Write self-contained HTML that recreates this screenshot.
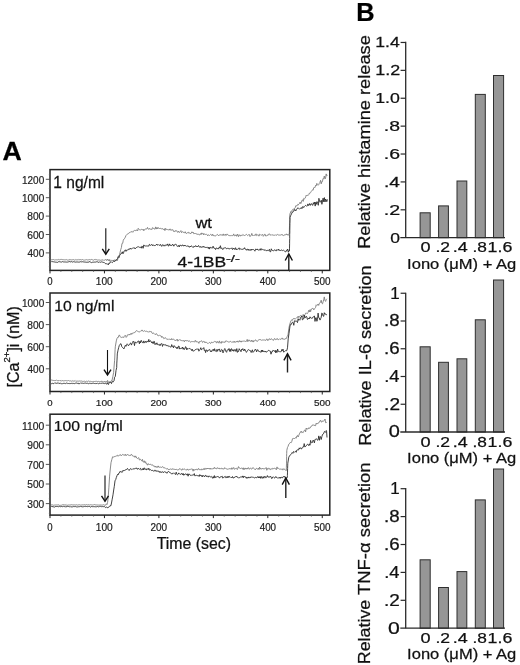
<!DOCTYPE html>
<html lang="en"><head><meta charset="utf-8"><title>Figure</title>
<style>
html,body{margin:0;padding:0;background:#fff;}
body{width:520px;height:665px;overflow:hidden;}
svg{display:block;filter:grayscale(1);font-family:"Liberation Sans",sans-serif;}
</style></head><body>
<svg width="520" height="665" viewBox="0 0 520 665">
<rect width="520" height="665" fill="#fff"/>
<text transform="translate(3.20,160.10) scale(1.024,1)" x="-0.65" y="0" font-size="26.09" font-weight="bold" fill="#000" stroke="#000" stroke-width="0.25">A</text>
<text transform="translate(357.80,20.70) scale(0.967,1)" x="-1.71" y="0" font-size="26.23" font-weight="bold" fill="#000" stroke="#000" stroke-width="0.25">B</text>
<rect x="50.0" y="169.6" width="279.8" height="100.79999999999998" fill="none" stroke="#222" stroke-width="1.5"/>
<line x1="45.80" y1="179.30" x2="50.00" y2="179.30" stroke="#444" stroke-width="0.9"/>
<text transform="translate(22.70,183.60) scale(0.961,1)" x="-0.78" y="0" font-size="10.43" fill="#222" stroke="#222" stroke-width="0.2">1200</text>
<line x1="45.80" y1="197.70" x2="50.00" y2="197.70" stroke="#444" stroke-width="0.9"/>
<text transform="translate(22.70,202.00) scale(0.961,1)" x="-0.78" y="0" font-size="10.43" fill="#222" stroke="#222" stroke-width="0.2">1000</text>
<line x1="45.80" y1="216.10" x2="50.00" y2="216.10" stroke="#444" stroke-width="0.9"/>
<text transform="translate(27.70,220.40) scale(0.977,1)" x="-0.42" y="0" font-size="10.43" fill="#222" stroke="#222" stroke-width="0.2">800</text>
<line x1="45.80" y1="234.50" x2="50.00" y2="234.50" stroke="#444" stroke-width="0.9"/>
<text transform="translate(27.70,238.80) scale(0.983,1)" x="-0.52" y="0" font-size="10.43" fill="#222" stroke="#222" stroke-width="0.2">600</text>
<line x1="45.80" y1="252.90" x2="50.00" y2="252.90" stroke="#444" stroke-width="0.9"/>
<text transform="translate(27.70,257.20) scale(0.965,1)" x="-0.21" y="0" font-size="10.43" fill="#222" stroke="#222" stroke-width="0.2">400</text>
<line x1="48.80" y1="174.70" x2="50.00" y2="174.70" stroke="#666" stroke-width="0.6"/>
<line x1="48.80" y1="183.90" x2="50.00" y2="183.90" stroke="#666" stroke-width="0.6"/>
<line x1="48.80" y1="188.50" x2="50.00" y2="188.50" stroke="#666" stroke-width="0.6"/>
<line x1="48.80" y1="193.10" x2="50.00" y2="193.10" stroke="#666" stroke-width="0.6"/>
<line x1="48.80" y1="202.30" x2="50.00" y2="202.30" stroke="#666" stroke-width="0.6"/>
<line x1="48.80" y1="206.90" x2="50.00" y2="206.90" stroke="#666" stroke-width="0.6"/>
<line x1="48.80" y1="211.50" x2="50.00" y2="211.50" stroke="#666" stroke-width="0.6"/>
<line x1="48.80" y1="220.70" x2="50.00" y2="220.70" stroke="#666" stroke-width="0.6"/>
<line x1="48.80" y1="225.30" x2="50.00" y2="225.30" stroke="#666" stroke-width="0.6"/>
<line x1="48.80" y1="229.90" x2="50.00" y2="229.90" stroke="#666" stroke-width="0.6"/>
<line x1="48.80" y1="239.10" x2="50.00" y2="239.10" stroke="#666" stroke-width="0.6"/>
<line x1="48.80" y1="243.70" x2="50.00" y2="243.70" stroke="#666" stroke-width="0.6"/>
<line x1="48.80" y1="248.30" x2="50.00" y2="248.30" stroke="#666" stroke-width="0.6"/>
<line x1="48.80" y1="257.50" x2="50.00" y2="257.50" stroke="#666" stroke-width="0.6"/>
<line x1="48.80" y1="262.10" x2="50.00" y2="262.10" stroke="#666" stroke-width="0.6"/>
<line x1="48.80" y1="266.70" x2="50.00" y2="266.70" stroke="#666" stroke-width="0.6"/>
<line x1="50.00" y1="270.40" x2="50.00" y2="273.40" stroke="#222" stroke-width="1.0"/>
<text transform="translate(47.70,284.90) scale(0.932,1)" x="-0.41" y="0" font-size="10.29" fill="#222" stroke="#222" stroke-width="0.2">0</text>
<line x1="104.45" y1="270.40" x2="104.45" y2="273.40" stroke="#222" stroke-width="1.0"/>
<text transform="translate(96.55,284.90) scale(0.988,1)" x="-0.77" y="0" font-size="10.29" fill="#222" stroke="#222" stroke-width="0.2">100</text>
<line x1="158.90" y1="270.40" x2="158.90" y2="273.40" stroke="#222" stroke-width="1.0"/>
<text transform="translate(151.00,284.90) scale(0.972,1)" x="-0.51" y="0" font-size="10.29" fill="#222" stroke="#222" stroke-width="0.2">200</text>
<line x1="213.35" y1="270.40" x2="213.35" y2="273.40" stroke="#222" stroke-width="1.0"/>
<text transform="translate(205.45,284.90) scale(0.966,1)" x="-0.41" y="0" font-size="10.29" fill="#222" stroke="#222" stroke-width="0.2">300</text>
<line x1="267.80" y1="270.40" x2="267.80" y2="273.40" stroke="#222" stroke-width="1.0"/>
<text transform="translate(259.90,284.90) scale(0.954,1)" x="-0.21" y="0" font-size="10.29" fill="#222" stroke="#222" stroke-width="0.2">400</text>
<line x1="322.25" y1="270.40" x2="322.25" y2="273.40" stroke="#222" stroke-width="1.0"/>
<text transform="translate(314.35,284.90) scale(0.966,1)" x="-0.41" y="0" font-size="10.29" fill="#222" stroke="#222" stroke-width="0.2">500</text>
<line x1="60.89" y1="270.40" x2="60.89" y2="272.00" stroke="#555" stroke-width="0.7"/>
<line x1="71.78" y1="270.40" x2="71.78" y2="272.00" stroke="#555" stroke-width="0.7"/>
<line x1="82.67" y1="270.40" x2="82.67" y2="272.00" stroke="#555" stroke-width="0.7"/>
<line x1="93.56" y1="270.40" x2="93.56" y2="272.00" stroke="#555" stroke-width="0.7"/>
<line x1="115.34" y1="270.40" x2="115.34" y2="272.00" stroke="#555" stroke-width="0.7"/>
<line x1="126.23" y1="270.40" x2="126.23" y2="272.00" stroke="#555" stroke-width="0.7"/>
<line x1="137.12" y1="270.40" x2="137.12" y2="272.00" stroke="#555" stroke-width="0.7"/>
<line x1="148.01" y1="270.40" x2="148.01" y2="272.00" stroke="#555" stroke-width="0.7"/>
<line x1="169.79" y1="270.40" x2="169.79" y2="272.00" stroke="#555" stroke-width="0.7"/>
<line x1="180.68" y1="270.40" x2="180.68" y2="272.00" stroke="#555" stroke-width="0.7"/>
<line x1="191.57" y1="270.40" x2="191.57" y2="272.00" stroke="#555" stroke-width="0.7"/>
<line x1="202.46" y1="270.40" x2="202.46" y2="272.00" stroke="#555" stroke-width="0.7"/>
<line x1="224.24" y1="270.40" x2="224.24" y2="272.00" stroke="#555" stroke-width="0.7"/>
<line x1="235.13" y1="270.40" x2="235.13" y2="272.00" stroke="#555" stroke-width="0.7"/>
<line x1="246.02" y1="270.40" x2="246.02" y2="272.00" stroke="#555" stroke-width="0.7"/>
<line x1="256.91" y1="270.40" x2="256.91" y2="272.00" stroke="#555" stroke-width="0.7"/>
<line x1="278.69" y1="270.40" x2="278.69" y2="272.00" stroke="#555" stroke-width="0.7"/>
<line x1="289.58" y1="270.40" x2="289.58" y2="272.00" stroke="#555" stroke-width="0.7"/>
<line x1="300.47" y1="270.40" x2="300.47" y2="272.00" stroke="#555" stroke-width="0.7"/>
<line x1="311.36" y1="270.40" x2="311.36" y2="272.00" stroke="#555" stroke-width="0.7"/>
<text transform="translate(54.50,187.90) scale(0.983,1)" x="-1.18" y="0" font-size="15.80" fill="#111" stroke="#111" stroke-width="0.25">1 ng/ml</text>
<polyline points="51.0,259.6 51.6,259.8 52.2,259.7 52.8,259.6 53.4,259.5 54.0,259.7 54.6,260.0 55.2,259.8 55.8,259.9 56.4,259.8 57.0,259.8 57.7,259.8 58.3,259.4 58.9,259.9 59.5,259.8 60.1,259.8 60.7,259.4 61.3,259.4 61.9,259.5 62.5,259.6 63.1,259.8 63.7,259.7 64.3,259.9 64.9,259.6 65.5,259.8 66.1,259.8 66.7,259.6 67.3,260.1 67.9,259.9 68.5,260.0 69.1,259.6 69.8,259.6 70.4,259.7 71.0,259.8 71.6,259.9 72.2,259.8 72.8,259.7 73.4,259.6 74.0,259.7 74.6,260.1 75.2,259.6 75.8,259.9 76.4,259.9 77.0,259.5 77.6,259.8 78.2,260.1 78.8,259.4 79.4,259.7 80.0,259.8 80.6,259.6 81.2,259.9 81.9,259.8 82.5,259.5 83.1,260.0 83.7,260.0 84.3,260.0 84.9,260.2 85.5,259.9 86.1,259.9 86.7,259.6 87.3,260.0 87.9,259.7 88.5,259.8 89.1,259.6 89.7,259.6 90.3,259.7 90.9,260.1 91.5,259.4 92.1,259.5 92.7,259.9 93.3,260.2 94.0,260.0 94.6,259.5 95.2,259.3 95.8,260.0 96.4,259.7 97.0,259.6 97.6,260.1 98.2,260.1 98.8,259.9 99.4,260.0 100.0,260.0 100.6,260.3 101.2,260.1 101.8,260.1 102.4,260.1 103.0,259.6 103.6,260.3 104.2,260.2 104.9,260.1 105.5,259.6 106.1,259.7 106.7,260.6 107.3,259.0 107.9,260.0 108.5,260.7 109.1,259.3 109.7,261.1 110.3,260.5 110.9,260.1 111.5,260.4 112.1,260.6 112.8,260.3 113.4,260.9 114.0,259.8 114.6,260.0 115.2,260.9 115.8,260.3 116.4,259.8 117.0,260.9 117.6,259.9 118.2,257.4 118.9,255.5 119.5,254.9 120.1,252.2 120.8,249.3 121.4,247.6 122.0,243.4 122.7,243.3 123.3,240.2 124.0,239.0 124.7,238.4 125.3,237.2 126.0,235.5 126.6,234.8 127.2,234.2 127.9,233.8 128.5,233.6 129.1,232.7 129.8,232.5 130.4,232.3 131.0,231.5 131.6,231.8 132.2,231.5 132.8,232.3 133.4,231.1 134.0,230.5 134.6,230.4 135.2,230.4 135.8,230.9 136.4,229.9 137.0,230.2 137.6,231.0 138.2,228.3 138.9,229.2 139.5,229.9 140.1,230.0 140.7,229.8 141.3,229.3 142.0,229.9 142.6,229.7 143.2,229.1 143.8,230.8 144.4,229.5 145.0,228.9 145.7,229.1 146.3,229.0 146.9,229.0 147.5,227.4 148.1,228.7 148.8,229.5 149.4,228.2 150.0,228.8 150.6,229.3 151.2,229.2 151.9,229.6 152.5,227.6 153.1,228.4 153.8,228.4 154.4,228.9 155.0,229.2 155.6,226.9 156.2,229.1 156.9,227.5 157.5,228.8 158.1,227.4 158.8,228.4 159.4,229.0 160.0,228.1 160.6,228.4 161.2,228.9 161.8,228.6 162.5,228.5 163.1,229.6 163.7,229.4 164.3,228.7 164.9,230.6 165.5,228.4 166.2,229.7 166.8,229.1 167.4,229.5 168.0,229.9 168.6,229.8 169.2,230.1 169.8,229.0 170.5,229.1 171.1,230.5 171.7,229.7 172.3,229.8 172.9,229.7 173.5,231.4 174.2,231.3 174.8,231.8 175.4,230.5 176.0,231.2 176.6,230.6 177.2,231.8 177.8,232.4 178.5,231.0 179.1,232.5 179.7,232.2 180.3,231.6 180.9,230.6 181.5,232.7 182.1,231.9 182.7,231.7 183.4,232.3 184.0,232.4 184.6,233.1 185.2,231.7 185.8,233.1 186.4,233.4 187.0,233.4 187.6,232.5 188.3,232.2 188.9,233.4 189.5,232.9 190.1,233.0 190.7,233.8 191.3,232.9 191.9,231.8 192.5,233.0 193.2,232.2 193.8,233.8 194.4,233.6 195.0,233.1 195.6,233.6 196.2,234.1 196.8,233.7 197.4,234.5 198.0,233.8 198.6,234.5 199.2,234.8 199.8,234.9 200.5,233.6 201.1,234.6 201.7,233.0 202.3,233.5 202.9,233.1 203.5,234.9 204.1,233.6 204.7,234.4 205.3,234.4 205.9,234.5 206.5,234.2 207.1,234.8 207.7,235.8 208.3,234.8 208.9,235.1 209.5,235.5 210.2,234.8 210.8,234.2 211.4,234.7 212.0,235.8 212.6,234.2 213.2,234.9 213.8,235.9 214.4,235.8 215.0,235.4 215.6,235.9 216.2,235.5 216.8,234.7 217.4,234.4 218.0,235.0 218.6,235.9 219.2,235.0 219.8,234.8 220.4,234.9 221.0,234.4 221.6,235.3 222.2,234.6 222.8,235.5 223.4,233.9 224.1,235.5 224.7,234.9 225.3,234.1 225.9,235.7 226.5,235.1 227.1,233.9 227.7,234.7 228.3,235.4 228.9,235.0 229.5,235.7 230.1,235.7 230.7,235.6 231.3,235.4 231.9,236.0 232.5,235.6 233.1,235.5 233.7,233.9 234.3,235.7 234.9,236.0 235.5,235.0 236.1,234.9 236.7,236.3 237.3,234.1 237.9,235.4 238.5,236.6 239.1,234.6 239.7,235.5 240.3,236.2 240.9,235.0 241.6,235.4 242.2,235.6 242.8,234.5 243.4,235.0 244.0,235.2 244.6,235.6 245.2,235.0 245.8,234.9 246.4,234.4 247.0,234.8 247.6,235.6 248.2,235.1 248.8,234.5 249.4,234.5 250.0,236.6 250.6,235.7 251.2,235.4 251.8,233.4 252.4,235.4 253.0,235.3 253.6,236.0 254.2,235.3 254.8,235.0 255.4,235.3 256.0,233.8 256.7,235.6 257.3,235.2 257.9,234.6 258.5,235.8 259.1,236.1 259.7,234.2 260.3,234.6 260.9,235.2 261.5,235.1 262.1,234.8 262.7,234.4 263.3,236.3 263.9,235.6 264.5,234.3 265.1,234.2 265.7,236.0 266.3,235.6 266.9,236.1 267.5,235.5 268.1,234.5 268.7,235.2 269.3,233.7 270.0,234.6 270.6,235.0 271.2,235.3 271.8,234.6 272.4,234.9 273.0,235.3 273.6,235.2 274.2,235.4 274.8,235.1 275.4,234.8 276.0,235.5 276.6,235.0 277.2,234.5 277.8,234.6 278.4,235.0 279.0,234.9 279.6,235.1 280.2,235.0 280.8,235.1 281.4,234.9 282.0,234.2 282.6,235.3 283.3,235.6 283.9,235.3 284.5,234.9 285.1,235.3 285.7,234.4 286.3,233.9 286.9,235.0 287.5,234.4 288.1,235.4 288.7,234.3 289.3,233.4 289.4,231.4 289.4,229.9 289.5,225.8 289.6,222.2 289.7,219.5 289.7,217.3 289.8,214.3 291.0,211.1 291.6,211.3 292.2,210.3 292.8,209.3 293.4,209.2 294.0,209.3 294.6,208.3 295.2,207.8 295.8,205.7 296.4,205.8 297.1,205.8 297.7,204.4 298.3,204.9 298.9,203.9 299.5,203.5 300.1,202.1 300.8,203.7 301.4,202.0 302.0,200.2 302.6,199.9 303.2,201.4 303.8,198.3 304.5,198.8 305.1,198.3 305.7,196.8 306.3,195.0 306.9,195.7 307.5,195.3 308.2,195.4 308.8,194.5 309.4,193.1 310.0,193.4 310.6,192.5 311.2,191.5 311.9,190.7 312.5,189.8 313.1,190.2 313.7,187.7 314.4,187.5 315.0,187.6 315.6,185.3 316.2,185.9 316.8,183.4 317.5,184.3 318.1,185.3 318.7,184.7 319.3,183.3 319.9,182.4 320.6,180.3 321.2,183.9 321.8,181.6 322.4,181.7 323.0,178.5 323.7,178.8 324.3,176.0 324.9,178.9 325.5,178.5 326.2,173.9 326.8,175.9 327.4,175.4" fill="none" stroke="#7d7d7d" stroke-width="0.9" stroke-linejoin="round"/>
<polyline points="51.0,262.2 51.6,261.6 52.2,261.6 52.8,261.7 53.4,261.8 54.0,261.7 54.6,262.0 55.2,262.1 55.8,262.2 56.4,262.2 57.0,262.4 57.7,262.3 58.3,261.7 58.9,261.9 59.5,261.7 60.1,261.7 60.7,262.0 61.3,262.0 61.9,262.1 62.5,261.6 63.1,261.7 63.7,262.0 64.3,262.0 64.9,261.9 65.5,262.0 66.1,261.8 66.7,262.2 67.3,262.1 67.9,262.0 68.5,261.8 69.1,262.0 69.7,261.3 70.3,261.8 71.0,262.0 71.6,261.6 72.2,262.0 72.8,262.0 73.4,261.7 74.0,261.9 74.6,261.9 75.2,262.1 75.8,262.1 76.4,262.0 77.0,261.8 77.6,262.0 78.2,262.0 78.8,262.2 79.4,262.1 80.0,261.8 80.6,261.7 81.2,261.9 81.8,261.8 82.4,261.7 83.0,262.0 83.7,261.9 84.3,262.0 84.9,262.1 85.5,261.9 86.1,262.6 86.7,261.9 87.3,262.3 87.9,262.0 88.5,262.3 89.1,261.4 89.7,261.8 90.3,262.1 90.9,262.1 91.5,262.6 92.1,262.1 92.7,262.3 93.3,262.2 93.9,262.2 94.5,262.1 95.1,262.0 95.7,262.1 96.3,261.7 97.0,262.3 97.6,261.8 98.2,262.1 98.8,262.5 99.4,261.9 100.0,262.0 100.6,262.3 101.2,262.0 101.8,261.8 102.4,262.1 103.0,262.1 103.7,262.5 104.3,262.5 105.0,263.4 105.7,263.7 106.4,263.7 107.0,264.1 107.7,264.0 108.4,264.8 109.0,262.9 109.7,263.4 110.3,262.1 111.0,261.5 111.7,262.3 112.4,262.6 113.2,261.5 113.9,260.9 114.6,261.7 115.3,260.4 116.0,259.8 116.8,259.8 117.5,258.7 118.2,256.7 119.0,257.6 119.7,255.2 120.4,254.7 121.0,253.4 121.6,253.4 122.3,251.8 122.9,253.8 123.5,253.1 124.1,251.0 124.8,250.4 125.4,249.9 126.0,251.4 126.6,250.1 127.2,250.1 127.8,249.8 128.4,249.7 129.0,248.8 129.6,249.4 130.2,248.1 130.8,248.9 131.4,248.9 132.0,248.8 132.6,248.2 133.2,247.6 133.9,248.3 134.5,247.7 135.1,249.0 135.7,248.3 136.3,247.6 137.0,247.2 137.6,246.9 138.2,246.7 138.8,246.9 139.4,247.3 140.0,247.3 140.7,247.2 141.3,248.2 141.9,246.1 142.5,246.5 143.1,248.3 143.8,244.9 144.4,245.8 145.0,246.1 145.6,246.0 146.2,246.2 146.9,245.6 147.5,246.0 148.1,245.7 148.8,246.2 149.4,244.3 150.0,244.9 150.6,245.4 151.2,244.7 151.9,244.6 152.5,245.7 153.1,244.7 153.8,245.6 154.4,245.6 155.0,245.2 155.6,245.4 156.2,244.9 156.8,244.0 157.4,245.0 158.0,245.3 158.6,244.7 159.2,245.0 159.8,245.6 160.5,244.4 161.1,245.5 161.7,246.4 162.3,244.7 162.9,245.2 163.5,245.0 164.1,246.2 164.7,245.3 165.3,245.7 165.9,244.6 166.5,245.1 167.1,245.1 167.7,243.9 168.3,246.1 168.9,245.8 169.5,243.9 170.2,245.7 170.8,245.1 171.4,245.5 172.0,245.4 172.6,244.1 173.2,245.0 173.8,246.2 174.4,244.8 175.0,244.5 175.6,244.3 176.2,244.4 176.8,245.6 177.4,246.5 178.0,245.7 178.6,245.6 179.2,247.0 179.8,245.2 180.5,245.1 181.1,246.0 181.7,246.0 182.3,245.0 182.9,244.9 183.5,246.0 184.1,246.0 184.7,245.0 185.3,245.8 185.9,245.6 186.5,246.3 187.1,246.0 187.7,246.0 188.3,245.9 188.9,246.9 189.5,247.2 190.2,246.0 190.8,246.9 191.4,245.8 192.0,246.4 192.6,246.9 193.2,247.5 193.8,246.3 194.4,246.5 195.0,246.7 195.6,245.6 196.2,246.7 196.8,246.2 197.4,247.0 198.0,246.0 198.6,245.5 199.2,246.9 199.8,247.1 200.5,246.5 201.1,247.6 201.7,246.8 202.3,246.6 202.9,247.4 203.5,246.0 204.1,246.7 204.7,247.2 205.3,247.8 205.9,247.1 206.5,247.5 207.1,246.9 207.7,247.6 208.3,248.5 208.9,247.0 209.5,249.1 210.2,247.1 210.8,247.6 211.4,247.7 212.0,248.3 212.6,246.8 213.2,246.2 213.8,248.1 214.4,248.3 215.0,248.2 215.6,249.6 216.2,248.0 216.8,248.1 217.4,248.6 218.0,248.2 218.6,249.1 219.2,247.1 219.8,247.8 220.4,245.7 221.0,248.6 221.6,247.8 222.2,248.8 222.8,249.6 223.4,248.2 224.1,248.0 224.7,247.9 225.3,247.7 225.9,247.9 226.5,248.8 227.1,248.4 227.7,248.4 228.3,248.3 228.9,249.1 229.5,248.8 230.1,248.4 230.7,249.0 231.3,248.4 231.9,247.8 232.5,249.6 233.1,248.9 233.7,248.0 234.3,249.4 234.9,248.9 235.5,247.7 236.1,249.9 236.7,249.0 237.3,249.4 237.9,249.0 238.5,248.8 239.1,247.8 239.7,249.6 240.3,249.0 240.9,248.8 241.6,249.3 242.2,249.1 242.8,249.5 243.4,248.8 244.0,249.1 244.6,247.7 245.2,248.9 245.8,249.7 246.4,250.2 247.0,249.0 247.6,249.2 248.2,250.4 248.8,249.1 249.4,249.9 250.0,250.6 250.6,249.5 251.2,250.3 251.8,249.0 252.4,249.6 253.0,249.5 253.6,249.6 254.3,250.3 254.9,251.2 255.5,249.1 256.1,249.2 256.7,250.0 257.3,248.9 257.9,250.0 258.5,250.1 259.1,249.6 259.7,250.1 260.3,248.7 260.9,250.3 261.5,248.8 262.2,249.4 262.8,249.5 263.4,249.6 264.0,250.5 264.6,250.0 265.2,249.7 265.8,250.4 266.4,251.1 267.0,250.1 267.6,250.3 268.2,250.9 268.8,250.3 269.4,249.3 270.1,251.9 270.7,251.7 271.3,248.8 271.9,250.2 272.5,250.5 273.1,250.9 273.7,250.8 274.3,250.1 274.9,249.6 275.5,250.4 276.1,251.1 276.7,249.7 277.3,249.7 278.0,250.4 278.6,249.1 279.2,250.3 279.8,250.2 280.4,250.9 281.0,250.1 281.6,250.0 282.2,250.4 282.8,250.6 283.4,250.2 284.0,250.7 284.6,251.2 285.2,251.6 285.9,251.9 286.5,250.2 287.1,250.5 287.7,249.1 288.3,252.2 288.9,250.4 289.5,250.9 289.5,248.2 289.6,243.8 289.6,242.0 289.7,238.6 289.7,234.2 289.8,232.6 289.8,230.2 289.9,225.0 289.9,223.7 290.0,220.2 290.0,217.3 290.8,215.3 291.5,213.9 292.1,212.2 292.7,212.4 293.4,210.9 294.0,211.1 294.6,209.4 295.2,209.7 295.8,210.9 296.4,209.7 297.0,209.0 297.6,207.9 298.2,208.0 298.8,208.6 299.4,209.1 300.0,208.4 300.6,208.3 301.3,207.6 301.9,208.7 302.5,206.8 303.1,206.4 303.7,207.6 304.3,206.6 304.9,206.0 305.5,205.4 306.1,205.6 306.7,206.3 307.3,205.8 307.9,203.9 308.5,205.5 309.1,205.1 309.7,203.5 310.3,205.4 311.0,204.0 311.6,203.7 312.2,204.9 312.8,205.4 313.4,202.7 314.0,204.0 314.6,202.1 315.2,206.1 315.8,202.2 316.4,204.3 317.0,201.6 317.7,203.4 318.3,205.3 318.9,198.3 319.5,201.1 320.1,202.3 320.7,201.3 321.3,200.2 321.9,204.3 322.5,201.0 323.1,198.1 323.7,201.8 324.4,197.6 325.0,202.0 325.6,199.0 326.2,200.0 326.8,201.7 327.4,199.4" fill="none" stroke="#2c2c2c" stroke-width="0.9" stroke-linejoin="round"/>
<path d="M105.8,228.2 V254.2 " fill="none" stroke="#111" stroke-width="1.1"/><path d="M102.3,248.79999999999998 L105.8,254.2 L109.3,248.79999999999998" fill="none" stroke="#111" stroke-width="1.4"/>
<path d="M288.8,270.4 V253.9 " fill="none" stroke="#222" stroke-width="1.4"/><path d="M285.2,260.5 L288.8,253.9 L292.40000000000003,260.5" fill="none" stroke="#111" stroke-width="1.4"/>
<rect x="50.0" y="293" width="279.8" height="98.5" fill="none" stroke="#222" stroke-width="1.5"/>
<line x1="45.80" y1="302.50" x2="50.00" y2="302.50" stroke="#444" stroke-width="0.9"/>
<text transform="translate(22.70,306.80) scale(0.961,1)" x="-0.78" y="0" font-size="10.43" fill="#222" stroke="#222" stroke-width="0.2">1000</text>
<line x1="45.80" y1="324.60" x2="50.00" y2="324.60" stroke="#444" stroke-width="0.9"/>
<text transform="translate(27.70,328.90) scale(0.977,1)" x="-0.42" y="0" font-size="10.43" fill="#222" stroke="#222" stroke-width="0.2">800</text>
<line x1="45.80" y1="346.70" x2="50.00" y2="346.70" stroke="#444" stroke-width="0.9"/>
<text transform="translate(27.70,351.00) scale(0.983,1)" x="-0.52" y="0" font-size="10.43" fill="#222" stroke="#222" stroke-width="0.2">600</text>
<line x1="45.80" y1="368.80" x2="50.00" y2="368.80" stroke="#444" stroke-width="0.9"/>
<text transform="translate(27.70,373.10) scale(0.965,1)" x="-0.21" y="0" font-size="10.43" fill="#222" stroke="#222" stroke-width="0.2">400</text>
<line x1="48.80" y1="296.97" x2="50.00" y2="296.97" stroke="#666" stroke-width="0.6"/>
<line x1="48.80" y1="308.02" x2="50.00" y2="308.02" stroke="#666" stroke-width="0.6"/>
<line x1="48.80" y1="313.55" x2="50.00" y2="313.55" stroke="#666" stroke-width="0.6"/>
<line x1="48.80" y1="319.07" x2="50.00" y2="319.07" stroke="#666" stroke-width="0.6"/>
<line x1="48.80" y1="330.12" x2="50.00" y2="330.12" stroke="#666" stroke-width="0.6"/>
<line x1="48.80" y1="335.65" x2="50.00" y2="335.65" stroke="#666" stroke-width="0.6"/>
<line x1="48.80" y1="341.17" x2="50.00" y2="341.17" stroke="#666" stroke-width="0.6"/>
<line x1="48.80" y1="352.22" x2="50.00" y2="352.22" stroke="#666" stroke-width="0.6"/>
<line x1="48.80" y1="357.75" x2="50.00" y2="357.75" stroke="#666" stroke-width="0.6"/>
<line x1="48.80" y1="363.27" x2="50.00" y2="363.27" stroke="#666" stroke-width="0.6"/>
<line x1="48.80" y1="374.32" x2="50.00" y2="374.32" stroke="#666" stroke-width="0.6"/>
<line x1="48.80" y1="379.85" x2="50.00" y2="379.85" stroke="#666" stroke-width="0.6"/>
<line x1="48.80" y1="385.37" x2="50.00" y2="385.37" stroke="#666" stroke-width="0.6"/>
<line x1="50.00" y1="391.50" x2="50.00" y2="394.50" stroke="#222" stroke-width="1.0"/>
<text transform="translate(47.70,406.30) scale(0.972,1)" x="-0.39" y="0" font-size="9.86" fill="#222" stroke="#222" stroke-width="0.2">0</text>
<line x1="104.45" y1="391.50" x2="104.45" y2="394.50" stroke="#222" stroke-width="1.0"/>
<text transform="translate(96.55,406.30) scale(1.031,1)" x="-0.74" y="0" font-size="9.86" fill="#222" stroke="#222" stroke-width="0.2">100</text>
<line x1="158.90" y1="391.50" x2="158.90" y2="394.50" stroke="#222" stroke-width="1.0"/>
<text transform="translate(151.00,406.30) scale(1.014,1)" x="-0.49" y="0" font-size="9.86" fill="#222" stroke="#222" stroke-width="0.2">200</text>
<line x1="213.35" y1="391.50" x2="213.35" y2="394.50" stroke="#222" stroke-width="1.0"/>
<text transform="translate(205.45,406.30) scale(1.008,1)" x="-0.39" y="0" font-size="9.86" fill="#222" stroke="#222" stroke-width="0.2">300</text>
<line x1="267.80" y1="391.50" x2="267.80" y2="394.50" stroke="#222" stroke-width="1.0"/>
<text transform="translate(259.90,406.30) scale(0.996,1)" x="-0.20" y="0" font-size="9.86" fill="#222" stroke="#222" stroke-width="0.2">400</text>
<line x1="322.25" y1="391.50" x2="322.25" y2="394.50" stroke="#222" stroke-width="1.0"/>
<text transform="translate(314.35,406.30) scale(1.008,1)" x="-0.39" y="0" font-size="9.86" fill="#222" stroke="#222" stroke-width="0.2">500</text>
<line x1="60.89" y1="391.50" x2="60.89" y2="393.10" stroke="#555" stroke-width="0.7"/>
<line x1="71.78" y1="391.50" x2="71.78" y2="393.10" stroke="#555" stroke-width="0.7"/>
<line x1="82.67" y1="391.50" x2="82.67" y2="393.10" stroke="#555" stroke-width="0.7"/>
<line x1="93.56" y1="391.50" x2="93.56" y2="393.10" stroke="#555" stroke-width="0.7"/>
<line x1="115.34" y1="391.50" x2="115.34" y2="393.10" stroke="#555" stroke-width="0.7"/>
<line x1="126.23" y1="391.50" x2="126.23" y2="393.10" stroke="#555" stroke-width="0.7"/>
<line x1="137.12" y1="391.50" x2="137.12" y2="393.10" stroke="#555" stroke-width="0.7"/>
<line x1="148.01" y1="391.50" x2="148.01" y2="393.10" stroke="#555" stroke-width="0.7"/>
<line x1="169.79" y1="391.50" x2="169.79" y2="393.10" stroke="#555" stroke-width="0.7"/>
<line x1="180.68" y1="391.50" x2="180.68" y2="393.10" stroke="#555" stroke-width="0.7"/>
<line x1="191.57" y1="391.50" x2="191.57" y2="393.10" stroke="#555" stroke-width="0.7"/>
<line x1="202.46" y1="391.50" x2="202.46" y2="393.10" stroke="#555" stroke-width="0.7"/>
<line x1="224.24" y1="391.50" x2="224.24" y2="393.10" stroke="#555" stroke-width="0.7"/>
<line x1="235.13" y1="391.50" x2="235.13" y2="393.10" stroke="#555" stroke-width="0.7"/>
<line x1="246.02" y1="391.50" x2="246.02" y2="393.10" stroke="#555" stroke-width="0.7"/>
<line x1="256.91" y1="391.50" x2="256.91" y2="393.10" stroke="#555" stroke-width="0.7"/>
<line x1="278.69" y1="391.50" x2="278.69" y2="393.10" stroke="#555" stroke-width="0.7"/>
<line x1="289.58" y1="391.50" x2="289.58" y2="393.10" stroke="#555" stroke-width="0.7"/>
<line x1="300.47" y1="391.50" x2="300.47" y2="393.10" stroke="#555" stroke-width="0.7"/>
<line x1="311.36" y1="391.50" x2="311.36" y2="393.10" stroke="#555" stroke-width="0.7"/>
<text transform="translate(55.40,310.80) scale(1.052,1)" x="-1.12" y="0" font-size="14.93" fill="#111" stroke="#111" stroke-width="0.25">10 ng/ml</text>
<polyline points="51.0,380.3 51.6,380.0 52.2,380.0 52.8,380.6 53.4,380.5 54.0,380.2 54.6,380.6 55.2,380.5 55.8,380.6 56.4,380.0 57.0,380.4 57.6,380.7 58.2,380.7 58.9,380.7 59.5,380.0 60.1,380.6 60.7,380.7 61.3,381.2 61.9,380.4 62.5,380.6 63.1,380.7 63.7,380.9 64.3,380.6 64.9,381.0 65.5,380.6 66.1,380.8 66.7,380.7 67.3,380.8 67.9,380.7 68.5,380.5 69.1,381.1 69.7,380.9 70.3,380.8 70.9,381.0 71.5,381.2 72.1,380.7 72.8,381.0 73.4,381.1 74.0,381.1 74.6,381.0 75.2,380.6 75.8,381.3 76.4,381.2 77.0,381.1 77.6,381.1 78.2,381.2 78.8,381.1 79.4,381.0 80.0,381.0 80.6,381.1 81.2,381.1 81.8,381.0 82.4,381.4 83.0,381.0 83.6,381.4 84.2,381.1 84.8,381.4 85.4,381.6 86.0,381.4 86.6,381.2 87.2,381.4 87.8,381.4 88.4,381.0 89.0,381.2 89.6,381.4 90.2,381.3 90.8,381.4 91.4,381.6 92.0,381.6 92.6,381.7 93.2,381.6 93.8,381.4 94.4,381.5 95.0,381.4 95.6,381.4 96.2,381.5 96.8,381.2 97.4,381.5 98.0,381.6 98.6,381.4 99.2,381.6 99.8,381.7 100.4,381.6 101.0,382.1 101.6,381.1 102.2,381.6 102.8,381.3 103.4,381.9 104.0,382.3 104.6,381.1 105.2,381.7 105.8,381.8 106.4,381.5 107.0,382.1 107.6,380.4 108.2,382.3 108.8,382.0 109.4,381.8 110.0,381.4 110.6,381.8 111.3,380.7 111.9,380.7 112.8,376.9 113.6,372.6 114.6,360.3 114.8,357.0 114.9,354.0 115.1,349.6 115.3,346.8 116.3,340.9 116.9,338.7 117.5,337.5 118.1,337.7 118.8,335.8 119.4,334.9 120.0,336.3 120.6,337.2 121.2,337.3 121.9,337.6 122.5,337.2 123.1,336.9 123.7,337.6 124.3,336.2 124.9,335.4 125.6,335.6 126.2,337.4 126.8,336.7 127.4,334.9 128.0,334.6 128.6,334.9 129.2,334.1 129.8,335.1 130.5,334.0 131.1,333.2 131.7,334.4 132.3,333.0 132.9,333.3 133.5,332.9 134.2,332.5 134.8,332.7 135.4,331.8 136.0,330.9 136.6,330.6 137.2,331.1 137.8,331.3 138.4,331.7 139.0,331.6 139.6,331.9 140.2,331.5 140.8,330.9 141.4,330.9 142.0,329.9 142.6,331.0 143.2,331.3 143.8,331.3 144.4,330.8 145.0,330.7 145.6,331.5 146.3,331.1 146.9,331.6 147.5,331.7 148.2,331.6 148.8,332.3 149.5,331.3 150.1,331.6 150.7,331.5 151.4,331.6 152.0,333.1 152.6,333.5 153.2,332.8 153.8,333.4 154.5,334.1 155.1,334.1 155.7,334.7 156.3,333.5 156.9,334.2 157.5,335.1 158.2,336.0 158.8,335.5 159.4,335.2 160.0,335.8 160.6,335.8 161.2,336.0 161.9,337.6 162.5,336.6 163.1,337.2 163.8,338.7 164.4,338.3 165.0,338.1 165.6,337.7 166.2,338.6 166.9,339.5 167.5,339.2 168.1,339.6 168.7,339.0 169.3,339.3 169.9,339.0 170.5,339.4 171.1,340.0 171.7,338.5 172.3,339.4 172.9,339.6 173.5,339.2 174.1,339.4 174.7,340.2 175.3,341.0 175.9,340.2 176.6,340.1 177.2,339.1 177.8,341.2 178.4,340.2 179.0,340.2 179.6,339.6 180.2,340.4 180.8,339.8 181.4,340.6 182.0,340.9 182.6,340.7 183.2,340.9 183.8,340.3 184.4,341.8 185.0,340.6 185.6,340.0 186.2,341.0 186.8,340.7 187.4,340.6 188.0,341.0 188.6,341.4 189.2,340.6 189.8,341.3 190.5,342.3 191.1,341.9 191.7,341.4 192.3,341.6 192.9,341.5 193.5,341.6 194.1,342.1 194.7,341.7 195.3,340.3 195.9,341.8 196.5,341.3 197.1,342.3 197.7,341.6 198.3,342.1 198.9,343.4 199.5,341.5 200.2,341.5 200.8,341.3 201.4,340.8 202.0,341.1 202.6,342.5 203.2,342.0 203.8,341.3 204.4,341.6 205.0,342.9 205.6,342.0 206.2,342.2 206.8,342.6 207.4,343.2 208.0,343.6 208.6,343.0 209.2,342.5 209.8,342.5 210.4,343.4 211.0,343.2 211.6,342.1 212.2,342.6 212.8,342.4 213.4,342.3 214.1,341.9 214.7,341.4 215.3,341.9 215.9,341.3 216.5,342.9 217.1,342.5 217.7,341.4 218.3,343.0 218.9,342.6 219.5,340.9 220.1,343.2 220.7,342.5 221.3,343.3 221.9,341.3 222.5,342.3 223.1,342.2 223.7,342.1 224.3,342.1 224.9,342.6 225.5,341.0 226.1,341.2 226.7,341.0 227.3,341.5 227.9,341.5 228.5,342.0 229.1,342.0 229.7,341.8 230.3,341.4 230.9,341.5 231.6,342.3 232.2,342.2 232.8,341.8 233.4,341.5 234.0,342.6 234.6,341.3 235.2,342.0 235.8,342.3 236.4,341.4 237.0,342.1 237.6,340.9 238.2,342.2 238.8,341.7 239.4,340.6 240.0,341.9 240.6,340.9 241.2,342.2 241.8,341.0 242.4,341.2 243.0,341.5 243.6,341.1 244.2,341.4 244.8,340.8 245.4,341.5 246.0,341.1 246.6,341.2 247.2,339.4 247.8,341.7 248.4,341.0 249.0,339.8 249.6,340.9 250.2,341.1 250.8,341.4 251.4,340.1 252.0,341.6 252.6,340.6 253.2,342.1 253.8,340.5 254.4,340.9 255.0,340.3 255.6,339.8 256.2,341.1 256.8,340.9 257.4,341.3 258.0,340.8 258.6,339.9 259.2,339.2 259.8,339.8 260.4,339.7 261.0,339.6 261.6,340.4 262.2,340.2 262.8,339.8 263.4,340.0 264.0,339.8 264.6,340.0 265.2,340.3 265.8,340.4 266.4,339.3 267.0,338.8 267.6,340.5 268.2,339.7 268.8,340.2 269.4,338.6 270.0,339.3 270.6,339.5 271.2,338.6 271.8,339.1 272.4,339.8 273.0,340.0 273.6,340.3 274.2,338.8 274.8,338.5 275.4,339.6 276.0,339.8 276.6,339.3 277.2,338.4 277.8,339.6 278.5,339.6 279.1,339.4 279.7,338.8 280.3,339.2 280.9,339.5 281.5,338.7 282.1,337.9 282.7,339.2 283.3,339.2 283.9,338.9 284.5,339.4 285.1,338.5 285.7,338.8 286.3,338.6 287.1,336.7 288.0,335.0 288.8,328.8 289.5,325.2 290.2,322.9 291.0,320.5 291.6,320.1 292.2,320.6 292.8,319.1 293.4,318.9 294.0,318.1 294.6,318.8 295.2,319.2 295.8,318.4 296.4,318.0 297.0,317.4 297.6,317.4 298.2,316.1 298.8,317.7 299.5,316.4 300.1,315.7 300.7,315.7 301.3,315.5 301.9,316.7 302.5,316.7 303.2,314.4 303.8,316.2 304.4,316.0 305.0,314.5 305.6,313.2 306.2,313.4 306.9,313.0 307.5,313.5 308.1,312.3 308.8,310.2 309.4,312.0 310.0,309.7 310.6,311.7 311.2,309.0 311.9,309.1 312.5,308.4 313.1,308.3 313.8,309.9 314.4,308.9 315.0,308.2 315.6,307.4 316.2,304.8 316.9,305.5 317.5,305.0 318.1,304.0 318.7,305.4 319.3,303.4 320.0,302.9 320.6,302.0 321.2,300.2 321.8,303.2 322.5,303.8 323.1,301.8 323.7,299.8 324.3,296.9 324.9,300.4 325.6,301.4 326.2,299.7 326.8,298.8" fill="none" stroke="#7d7d7d" stroke-width="0.9" stroke-linejoin="round"/>
<polyline points="51.0,383.5 51.6,383.7 52.2,383.6 52.8,383.2 53.4,383.6 54.0,383.5 54.6,382.9 55.2,383.2 55.8,383.0 56.4,383.3 57.0,383.4 57.7,383.0 58.3,382.8 58.9,383.6 59.5,383.4 60.1,383.7 60.7,383.0 61.3,383.6 61.9,383.8 62.5,383.8 63.1,383.2 63.7,383.4 64.3,383.3 64.9,383.5 65.5,383.6 66.1,383.3 66.7,383.0 67.3,383.5 67.9,383.2 68.5,383.5 69.2,383.4 69.8,383.7 70.4,383.6 71.0,383.2 71.6,383.4 72.2,383.7 72.8,383.2 73.4,383.4 74.0,383.6 74.6,383.6 75.2,383.4 75.8,383.0 76.4,383.0 77.0,383.4 77.6,383.4 78.2,383.9 78.8,383.1 79.4,383.6 80.0,383.5 80.6,382.9 81.2,383.1 81.9,383.3 82.5,383.2 83.1,383.3 83.7,383.4 84.3,383.1 84.9,383.4 85.5,383.1 86.1,383.2 86.7,383.4 87.3,383.2 87.9,383.4 88.5,383.7 89.1,383.3 89.7,383.3 90.3,383.5 90.9,383.2 91.5,383.6 92.1,383.0 92.7,383.4 93.3,383.2 94.0,383.1 94.6,383.7 95.2,383.1 95.8,383.7 96.4,383.5 97.0,383.7 97.6,383.1 98.2,383.6 98.8,383.7 99.4,383.3 100.0,383.3 100.6,383.9 101.2,383.3 101.8,383.2 102.4,383.1 103.0,383.4 103.6,383.4 104.2,383.3 104.8,383.7 105.5,383.2 106.1,383.6 106.7,384.3 107.3,382.6 107.9,384.0 108.5,384.5 109.1,382.4 109.7,382.6 110.3,382.6 110.9,382.1 111.5,383.6 112.4,381.2 113.3,381.8 114.0,380.8 114.6,377.2 115.3,376.4 116.0,370.5 116.7,367.5 116.8,363.1 117.0,360.1 117.2,356.9 117.3,353.9 118.0,350.3 118.7,347.5 119.3,345.5 120.0,344.3 121.0,343.7 121.8,346.7 122.5,347.5 123.2,347.9 123.9,348.9 124.6,347.2 125.3,345.3 126.0,346.3 126.6,344.8 127.2,343.8 127.8,344.5 128.4,345.8 129.0,345.1 129.6,344.4 130.2,343.3 130.8,342.9 131.4,345.1 132.0,343.7 132.6,342.4 133.2,341.1 133.8,341.8 134.5,345.6 135.1,341.8 135.7,342.7 136.3,342.9 136.9,342.4 137.5,342.2 138.2,340.9 138.8,341.2 139.4,343.8 140.0,341.2 140.6,342.9 141.2,340.3 141.9,341.8 142.5,342.3 143.1,343.1 143.8,340.9 144.4,342.7 145.0,342.5 145.6,341.3 146.2,342.6 146.9,341.2 147.5,341.3 148.1,342.1 148.8,339.4 149.4,342.0 150.0,341.1 150.6,340.7 151.2,341.7 151.9,343.0 152.5,341.8 153.1,343.7 153.8,341.4 154.4,341.5 155.0,344.6 155.6,343.6 156.2,344.4 156.9,342.8 157.5,344.6 158.1,344.3 158.8,344.9 159.4,344.4 160.0,345.8 160.6,344.1 161.2,343.9 161.9,343.5 162.5,346.4 163.1,344.6 163.8,344.4 164.4,344.6 165.0,345.3 165.6,344.6 166.2,345.7 166.9,345.5 167.5,345.7 168.1,345.4 168.7,346.5 169.3,346.1 169.9,346.7 170.5,347.0 171.1,347.1 171.7,344.6 172.3,346.4 172.9,346.2 173.5,347.9 174.1,345.6 174.7,346.5 175.3,347.0 175.9,347.1 176.6,348.5 177.2,347.1 177.8,348.6 178.4,346.2 179.0,346.0 179.6,349.1 180.2,348.4 180.8,348.5 181.4,348.2 182.0,348.7 182.6,347.0 183.2,349.3 183.8,347.9 184.4,349.5 185.0,348.7 185.6,346.6 186.2,347.4 186.8,349.9 187.4,348.6 188.0,348.4 188.6,349.1 189.2,348.5 189.8,348.4 190.5,349.1 191.1,349.2 191.7,350.6 192.3,349.2 192.9,351.1 193.5,351.0 194.1,351.0 194.7,350.4 195.3,349.5 195.9,349.5 196.5,349.3 197.1,348.7 197.7,349.4 198.3,348.9 198.9,351.2 199.5,350.2 200.2,349.2 200.8,347.7 201.4,349.7 202.0,349.4 202.6,348.7 203.2,348.7 203.8,347.6 204.4,350.5 205.0,349.9 205.6,352.6 206.2,350.0 206.8,349.9 207.4,351.5 208.0,350.2 208.6,350.2 209.2,349.7 209.8,349.5 210.4,351.6 211.0,351.1 211.6,351.9 212.2,349.8 212.8,350.2 213.4,349.3 214.0,351.1 214.6,348.7 215.2,350.8 215.8,351.3 216.4,351.6 217.0,349.3 217.6,351.3 218.2,349.5 218.8,349.5 219.4,348.9 220.0,351.4 220.6,352.0 221.2,349.7 221.8,349.5 222.4,350.0 223.0,352.9 223.6,351.4 224.2,349.8 224.8,348.5 225.4,349.7 226.0,351.6 226.6,352.3 227.2,350.1 227.8,349.7 228.4,349.9 229.0,348.5 229.6,351.4 230.2,349.3 230.8,351.5 231.4,348.7 232.0,349.2 232.6,350.8 233.2,349.7 233.8,351.3 234.4,350.5 235.0,349.3 235.6,351.2 236.2,351.4 236.8,348.6 237.4,352.4 238.0,351.1 238.6,351.4 239.2,348.7 239.8,349.9 240.4,350.3 241.0,351.7 241.6,349.2 242.2,349.8 242.8,348.6 243.4,350.4 244.0,351.0 244.6,349.0 245.2,350.1 245.8,351.2 246.4,352.4 247.0,351.4 247.6,350.4 248.2,349.6 248.8,349.8 249.4,350.1 250.0,350.9 250.6,350.8 251.2,352.5 251.8,351.1 252.4,349.8 253.0,352.4 253.6,351.8 254.2,351.0 254.8,350.2 255.4,349.0 256.0,349.9 256.6,351.9 257.2,350.1 257.8,349.6 258.4,351.2 259.0,351.2 259.6,351.6 260.2,351.7 260.8,352.4 261.4,350.2 262.0,352.0 262.6,350.0 263.2,351.8 263.8,351.3 264.4,351.3 265.0,352.1 265.6,351.1 266.2,352.2 266.8,352.0 267.4,351.3 268.0,350.6 268.6,350.4 269.2,350.6 269.8,351.0 270.4,351.2 271.0,354.2 271.6,351.9 272.2,352.0 272.8,350.4 273.4,350.5 274.0,350.9 274.6,351.5 275.2,350.2 275.8,352.9 276.4,350.7 277.0,352.4 277.6,349.0 278.2,351.3 278.8,351.6 279.4,351.6 280.0,352.0 280.6,351.7 281.2,351.6 281.8,349.5 282.4,350.7 283.0,349.1 283.6,352.1 284.2,351.8 284.8,351.3 285.4,350.7 286.0,350.9 286.8,350.6 287.5,347.8 288.2,338.9 289.0,333.3 290.0,326.0 290.7,324.3 291.3,324.4 292.0,322.6 292.6,322.4 293.2,322.7 293.8,325.3 294.4,320.8 295.0,321.1 295.6,321.2 296.2,320.7 296.8,321.7 297.5,322.6 298.1,318.7 298.7,320.3 299.3,319.6 299.9,320.2 300.5,317.5 301.2,317.0 301.8,316.0 302.4,319.9 303.0,319.3 303.6,319.0 304.3,315.2 304.9,318.1 305.5,317.4 306.2,316.2 306.8,316.9 307.4,319.4 308.1,319.1 308.7,318.1 309.3,318.9 310.0,316.8 310.6,317.9 311.2,317.8 311.9,318.6 312.5,317.4 313.1,317.1 313.7,317.0 314.4,315.9 315.0,321.4 315.6,317.9 316.2,317.6 316.9,321.3 317.5,319.4 318.1,313.1 318.7,317.7 319.3,317.9 320.0,320.1 320.6,318.7 321.2,317.4 321.8,313.0 322.4,313.5 323.1,316.0 323.7,316.4 324.3,312.7 324.9,314.1 325.6,313.9 326.2,314.9 326.8,314.6" fill="none" stroke="#2c2c2c" stroke-width="0.9" stroke-linejoin="round"/>
<path d="M107.5,350 V375 " fill="none" stroke="#111" stroke-width="1.1"/><path d="M104.0,369.6 L107.5,375 L111.0,369.6" fill="none" stroke="#111" stroke-width="1.4"/>
<path d="M287.5,372.5 V353.8 " fill="none" stroke="#222" stroke-width="1.4"/><path d="M283.9,360.40000000000003 L287.5,353.8 L291.1,360.40000000000003" fill="none" stroke="#111" stroke-width="1.4"/>
<rect x="50.0" y="414.2" width="279.8" height="100.90000000000003" fill="none" stroke="#222" stroke-width="1.5"/>
<line x1="45.80" y1="425.20" x2="50.00" y2="425.20" stroke="#444" stroke-width="0.9"/>
<text transform="translate(22.70,429.50) scale(0.997,1)" x="-0.78" y="0" font-size="10.43" fill="#222" stroke="#222" stroke-width="0.2">1100</text>
<line x1="45.80" y1="444.80" x2="50.00" y2="444.80" stroke="#444" stroke-width="0.9"/>
<text transform="translate(27.70,449.10) scale(0.980,1)" x="-0.47" y="0" font-size="10.43" fill="#222" stroke="#222" stroke-width="0.2">900</text>
<line x1="45.80" y1="464.40" x2="50.00" y2="464.40" stroke="#444" stroke-width="0.9"/>
<text transform="translate(27.70,468.70) scale(0.983,1)" x="-0.52" y="0" font-size="10.43" fill="#222" stroke="#222" stroke-width="0.2">700</text>
<line x1="45.80" y1="484.00" x2="50.00" y2="484.00" stroke="#444" stroke-width="0.9"/>
<text transform="translate(27.70,488.30) scale(0.977,1)" x="-0.42" y="0" font-size="10.43" fill="#222" stroke="#222" stroke-width="0.2">500</text>
<line x1="45.80" y1="503.60" x2="50.00" y2="503.60" stroke="#444" stroke-width="0.9"/>
<text transform="translate(27.70,507.90) scale(0.977,1)" x="-0.42" y="0" font-size="10.43" fill="#222" stroke="#222" stroke-width="0.2">300</text>
<line x1="48.80" y1="415.40" x2="50.00" y2="415.40" stroke="#666" stroke-width="0.6"/>
<line x1="48.80" y1="420.30" x2="50.00" y2="420.30" stroke="#666" stroke-width="0.6"/>
<line x1="48.80" y1="430.10" x2="50.00" y2="430.10" stroke="#666" stroke-width="0.6"/>
<line x1="48.80" y1="435.00" x2="50.00" y2="435.00" stroke="#666" stroke-width="0.6"/>
<line x1="48.80" y1="439.90" x2="50.00" y2="439.90" stroke="#666" stroke-width="0.6"/>
<line x1="48.80" y1="449.70" x2="50.00" y2="449.70" stroke="#666" stroke-width="0.6"/>
<line x1="48.80" y1="454.60" x2="50.00" y2="454.60" stroke="#666" stroke-width="0.6"/>
<line x1="48.80" y1="459.50" x2="50.00" y2="459.50" stroke="#666" stroke-width="0.6"/>
<line x1="48.80" y1="469.30" x2="50.00" y2="469.30" stroke="#666" stroke-width="0.6"/>
<line x1="48.80" y1="474.20" x2="50.00" y2="474.20" stroke="#666" stroke-width="0.6"/>
<line x1="48.80" y1="479.10" x2="50.00" y2="479.10" stroke="#666" stroke-width="0.6"/>
<line x1="48.80" y1="488.90" x2="50.00" y2="488.90" stroke="#666" stroke-width="0.6"/>
<line x1="48.80" y1="493.80" x2="50.00" y2="493.80" stroke="#666" stroke-width="0.6"/>
<line x1="48.80" y1="498.70" x2="50.00" y2="498.70" stroke="#666" stroke-width="0.6"/>
<line x1="48.80" y1="508.50" x2="50.00" y2="508.50" stroke="#666" stroke-width="0.6"/>
<line x1="48.80" y1="513.40" x2="50.00" y2="513.40" stroke="#666" stroke-width="0.6"/>
<line x1="50.00" y1="515.10" x2="50.00" y2="518.10" stroke="#222" stroke-width="1.0"/>
<text transform="translate(47.70,531.20) scale(0.945,1)" x="-0.41" y="0" font-size="10.14" fill="#222" stroke="#222" stroke-width="0.2">0</text>
<line x1="104.45" y1="515.10" x2="104.45" y2="518.10" stroke="#222" stroke-width="1.0"/>
<text transform="translate(96.55,531.20) scale(1.002,1)" x="-0.76" y="0" font-size="10.14" fill="#222" stroke="#222" stroke-width="0.2">100</text>
<line x1="158.90" y1="515.10" x2="158.90" y2="518.10" stroke="#222" stroke-width="1.0"/>
<text transform="translate(151.00,531.20) scale(0.986,1)" x="-0.51" y="0" font-size="10.14" fill="#222" stroke="#222" stroke-width="0.2">200</text>
<line x1="213.35" y1="515.10" x2="213.35" y2="518.10" stroke="#222" stroke-width="1.0"/>
<text transform="translate(205.45,531.20) scale(0.980,1)" x="-0.41" y="0" font-size="10.14" fill="#222" stroke="#222" stroke-width="0.2">300</text>
<line x1="267.80" y1="515.10" x2="267.80" y2="518.10" stroke="#222" stroke-width="1.0"/>
<text transform="translate(259.90,531.20) scale(0.968,1)" x="-0.20" y="0" font-size="10.14" fill="#222" stroke="#222" stroke-width="0.2">400</text>
<line x1="322.25" y1="515.10" x2="322.25" y2="518.10" stroke="#222" stroke-width="1.0"/>
<text transform="translate(314.35,531.20) scale(0.980,1)" x="-0.41" y="0" font-size="10.14" fill="#222" stroke="#222" stroke-width="0.2">500</text>
<line x1="60.89" y1="515.10" x2="60.89" y2="516.70" stroke="#555" stroke-width="0.7"/>
<line x1="71.78" y1="515.10" x2="71.78" y2="516.70" stroke="#555" stroke-width="0.7"/>
<line x1="82.67" y1="515.10" x2="82.67" y2="516.70" stroke="#555" stroke-width="0.7"/>
<line x1="93.56" y1="515.10" x2="93.56" y2="516.70" stroke="#555" stroke-width="0.7"/>
<line x1="115.34" y1="515.10" x2="115.34" y2="516.70" stroke="#555" stroke-width="0.7"/>
<line x1="126.23" y1="515.10" x2="126.23" y2="516.70" stroke="#555" stroke-width="0.7"/>
<line x1="137.12" y1="515.10" x2="137.12" y2="516.70" stroke="#555" stroke-width="0.7"/>
<line x1="148.01" y1="515.10" x2="148.01" y2="516.70" stroke="#555" stroke-width="0.7"/>
<line x1="169.79" y1="515.10" x2="169.79" y2="516.70" stroke="#555" stroke-width="0.7"/>
<line x1="180.68" y1="515.10" x2="180.68" y2="516.70" stroke="#555" stroke-width="0.7"/>
<line x1="191.57" y1="515.10" x2="191.57" y2="516.70" stroke="#555" stroke-width="0.7"/>
<line x1="202.46" y1="515.10" x2="202.46" y2="516.70" stroke="#555" stroke-width="0.7"/>
<line x1="224.24" y1="515.10" x2="224.24" y2="516.70" stroke="#555" stroke-width="0.7"/>
<line x1="235.13" y1="515.10" x2="235.13" y2="516.70" stroke="#555" stroke-width="0.7"/>
<line x1="246.02" y1="515.10" x2="246.02" y2="516.70" stroke="#555" stroke-width="0.7"/>
<line x1="256.91" y1="515.10" x2="256.91" y2="516.70" stroke="#555" stroke-width="0.7"/>
<line x1="278.69" y1="515.10" x2="278.69" y2="516.70" stroke="#555" stroke-width="0.7"/>
<line x1="289.58" y1="515.10" x2="289.58" y2="516.70" stroke="#555" stroke-width="0.7"/>
<line x1="300.47" y1="515.10" x2="300.47" y2="516.70" stroke="#555" stroke-width="0.7"/>
<line x1="311.36" y1="515.10" x2="311.36" y2="516.70" stroke="#555" stroke-width="0.7"/>
<text transform="translate(54.90,431.20) scale(1.075,1)" x="-1.10" y="0" font-size="14.64" fill="#111" stroke="#111" stroke-width="0.25">100 ng/ml</text>
<polyline points="51.0,505.0 51.6,504.8 52.2,504.6 52.8,505.2 53.4,505.3 54.0,504.9 54.6,505.1 55.2,505.0 55.8,505.0 56.4,505.0 57.0,504.7 57.6,505.0 58.2,505.1 58.8,504.7 59.4,505.3 60.0,505.4 60.6,505.3 61.2,505.3 61.8,505.1 62.4,504.8 63.0,504.8 63.6,504.7 64.2,504.9 64.8,504.9 65.5,505.0 66.1,504.5 66.7,505.4 67.3,505.4 67.9,504.9 68.5,505.0 69.1,505.0 69.7,505.0 70.3,504.9 70.9,504.9 71.5,504.7 72.1,504.9 72.7,504.9 73.3,505.0 73.9,504.7 74.5,504.9 75.1,504.9 75.7,505.0 76.3,504.7 76.9,505.0 77.5,505.1 78.1,505.0 78.7,504.8 79.3,504.8 79.9,504.8 80.5,505.1 81.1,505.2 81.7,504.9 82.3,504.8 82.9,505.0 83.5,504.9 84.1,504.7 84.7,504.7 85.3,504.9 85.9,505.0 86.5,504.6 87.1,504.7 87.7,505.0 88.3,504.6 88.9,504.9 89.5,505.0 90.1,504.9 90.7,504.7 91.3,504.9 91.9,504.8 92.5,505.0 93.2,504.7 93.8,505.1 94.4,504.5 95.0,504.9 95.6,504.9 96.2,505.1 96.8,504.8 97.4,505.0 98.0,504.8 98.6,505.1 99.2,505.3 99.8,504.8 100.4,505.0 101.0,504.7 101.6,505.1 102.2,505.2 102.8,504.9 103.4,504.7 104.0,505.0 104.6,505.2 105.2,505.1 105.8,505.1 106.4,503.8 107.0,504.5 107.6,502.3 108.2,497.3 108.9,487.2 109.6,476.1 110.3,469.0 111.0,462.7 111.8,459.6 112.6,456.8 113.2,457.2 113.8,456.8 114.4,456.6 115.0,456.8 115.7,456.0 116.3,455.9 116.9,455.7 117.5,455.2 118.1,456.3 118.8,455.4 119.4,455.2 120.0,455.0 120.6,454.7 121.2,455.9 121.9,455.2 122.5,454.4 123.1,454.7 123.8,455.0 124.4,454.7 125.0,455.7 125.6,454.3 126.2,455.4 126.9,455.2 127.5,454.4 128.1,455.2 128.8,455.1 129.4,455.5 130.0,455.0 130.6,455.5 131.2,454.3 131.9,454.7 132.5,455.9 133.1,456.4 133.8,456.1 134.4,456.1 135.0,457.4 135.6,455.9 136.2,457.0 136.9,458.2 137.5,458.5 138.1,457.9 138.8,457.7 139.4,460.0 140.0,459.6 140.6,459.3 141.2,460.2 141.9,461.1 142.5,459.4 143.1,462.0 143.8,462.1 144.4,460.8 145.0,462.8 145.6,461.7 146.2,463.8 146.9,463.7 147.5,465.2 148.1,463.6 148.8,464.2 149.4,465.0 150.0,464.2 150.7,464.4 151.3,464.8 151.9,465.2 152.6,464.8 153.2,465.9 153.8,466.1 154.5,466.0 155.1,467.2 155.7,466.2 156.4,467.4 157.0,466.5 157.6,467.4 158.2,465.9 158.9,467.3 159.5,467.2 160.1,467.1 160.7,467.1 161.3,467.4 161.9,467.3 162.6,466.5 163.2,467.6 163.8,467.8 164.4,467.9 165.0,467.7 165.6,468.4 166.3,469.0 166.9,468.5 167.5,468.5 168.1,469.6 168.8,469.4 169.4,469.4 170.0,469.6 170.6,468.8 171.2,468.9 171.9,469.7 172.5,468.7 173.1,469.0 173.8,469.3 174.4,469.4 175.0,469.0 175.6,469.8 176.2,469.1 176.9,469.7 177.5,469.9 178.1,469.7 178.8,469.8 179.4,468.7 180.0,468.6 180.6,469.0 181.2,469.7 181.9,470.3 182.5,468.7 183.1,469.6 183.8,468.9 184.4,469.0 185.0,469.3 185.6,469.9 186.2,469.6 186.9,470.2 187.5,468.9 188.1,470.0 188.8,470.0 189.4,469.5 190.0,469.8 190.6,469.1 191.2,468.8 191.9,469.3 192.5,469.1 193.1,471.2 193.7,469.2 194.3,470.4 194.9,469.5 195.5,469.6 196.1,469.8 196.8,468.9 197.4,469.9 198.0,469.6 198.6,468.4 199.2,469.7 199.8,469.6 200.4,469.5 201.0,470.2 201.6,469.0 202.2,469.5 202.8,469.6 203.4,468.6 204.1,469.9 204.7,468.3 205.3,468.3 205.9,469.4 206.5,468.4 207.1,469.0 207.7,468.0 208.3,469.0 208.9,468.3 209.5,469.2 210.1,468.0 210.7,469.2 211.4,468.8 212.0,468.9 212.6,468.8 213.2,468.9 213.8,468.0 214.4,467.3 215.0,468.8 215.6,468.2 216.2,468.5 216.8,469.0 217.4,467.6 218.0,468.3 218.6,468.4 219.2,468.1 219.8,469.0 220.4,468.7 221.0,468.3 221.6,468.2 222.2,469.2 222.8,468.4 223.4,469.1 224.1,469.0 224.7,467.6 225.3,468.1 225.9,468.7 226.5,468.9 227.1,469.2 227.7,469.2 228.3,469.3 228.9,468.5 229.5,468.6 230.1,469.2 230.7,468.5 231.3,469.3 231.9,467.7 232.5,469.1 233.1,468.6 233.7,467.5 234.3,469.3 234.9,468.9 235.5,468.7 236.1,468.0 236.7,468.4 237.3,469.6 237.9,468.2 238.5,466.6 239.1,468.1 239.7,467.9 240.3,468.6 240.9,468.4 241.6,468.1 242.2,468.1 242.8,469.3 243.4,467.8 244.0,469.8 244.6,468.3 245.2,468.0 245.8,469.1 246.4,469.0 247.0,468.0 247.6,469.1 248.2,467.5 248.8,468.1 249.4,469.3 250.0,468.4 250.6,467.8 251.2,468.9 251.8,469.2 252.4,468.6 253.0,467.5 253.6,468.4 254.2,468.9 254.8,469.1 255.4,469.8 256.0,468.5 256.6,468.4 257.2,468.6 257.8,469.4 258.4,468.1 259.0,469.5 259.6,467.0 260.2,469.2 260.8,468.3 261.4,469.0 262.0,469.1 262.6,468.0 263.2,468.7 263.8,468.9 264.4,469.1 265.0,468.2 265.6,468.2 266.2,467.6 266.8,470.3 267.4,468.7 268.0,468.6 268.6,467.9 269.2,469.3 269.8,468.5 270.4,469.7 271.0,469.3 271.6,468.8 272.2,469.3 272.8,468.2 273.4,468.6 274.0,468.5 274.6,468.1 275.2,468.9 275.8,468.8 276.4,469.7 277.0,466.9 277.6,468.5 278.2,468.3 278.8,468.6 279.4,469.1 280.0,469.1 280.6,469.1 281.3,468.9 281.9,469.7 282.5,469.8 283.1,468.6 283.8,469.7 284.4,469.2 285.0,469.5 285.7,470.4 286.3,470.5 286.4,467.2 286.5,463.1 286.6,460.1 286.6,456.3 286.7,453.6 286.8,450.4 287.5,447.4 288.1,446.3 288.8,444.2 289.4,443.7 290.0,442.6 290.6,442.5 291.2,442.7 291.9,441.2 292.5,438.7 293.1,438.7 293.8,438.2 294.4,438.8 295.0,438.0 295.6,437.7 296.2,438.2 296.9,435.9 297.5,435.4 298.1,437.0 298.8,435.3 299.4,433.9 300.0,432.4 300.6,432.3 301.2,431.1 301.9,432.8 302.5,432.3 303.1,432.7 303.8,431.3 304.4,430.3 305.0,429.9 305.6,431.9 306.2,428.0 306.9,429.4 307.5,428.8 308.1,429.0 308.8,427.7 309.4,428.2 310.0,428.2 310.6,426.9 311.2,426.2 311.9,426.1 312.5,424.9 313.1,425.3 313.8,424.9 314.4,425.1 315.0,426.0 315.6,425.6 316.2,423.2 316.9,424.1 317.5,423.4 318.1,423.6 318.8,422.3 319.4,422.2 320.0,420.9 320.6,420.1 321.2,421.9 321.9,422.1 322.5,420.9 323.1,420.9 323.7,421.1 324.3,420.5 325.0,419.0 325.6,422.7 326.2,422.4 326.8,422.5" fill="none" stroke="#7d7d7d" stroke-width="0.9" stroke-linejoin="round"/>
<polyline points="51.0,506.5 51.6,506.4 52.2,506.9 52.8,506.2 53.4,507.0 54.0,506.8 54.6,507.2 55.2,506.4 55.8,506.6 56.4,506.5 57.0,506.6 57.6,506.5 58.2,506.4 58.8,506.9 59.4,506.4 60.0,506.5 60.6,506.7 61.2,506.5 61.8,506.5 62.4,506.7 63.0,506.5 63.6,506.3 64.2,506.6 64.9,506.5 65.5,507.0 66.1,506.3 66.7,506.8 67.3,506.4 67.9,506.5 68.5,506.5 69.1,506.7 69.7,506.8 70.3,507.0 70.9,506.4 71.5,506.9 72.1,506.8 72.7,506.8 73.3,506.4 73.9,506.8 74.5,506.6 75.1,506.7 75.7,506.5 76.3,506.8 76.9,506.9 77.5,506.9 78.1,506.6 78.7,506.8 79.3,507.0 79.9,506.4 80.5,507.0 81.1,506.3 81.7,506.7 82.3,506.7 82.9,507.0 83.5,506.7 84.1,506.5 84.7,506.4 85.3,506.3 85.9,506.8 86.5,506.5 87.1,506.4 87.7,506.7 88.3,506.4 88.9,506.5 89.5,506.5 90.1,507.0 90.8,507.0 91.4,506.6 92.0,506.2 92.6,506.7 93.2,506.6 93.8,506.7 94.4,506.7 95.0,506.5 95.6,506.8 96.2,506.8 96.8,506.7 97.4,506.5 98.0,506.5 98.6,506.8 99.2,506.3 99.8,506.6 100.4,506.4 101.0,506.3 101.6,506.7 102.2,506.6 102.8,506.6 103.4,506.8 104.0,506.2 104.6,506.9 105.2,507.3 105.9,507.7 106.5,507.1 107.3,507.8 108.0,507.0 108.8,507.3 109.4,506.6 110.0,505.6 110.7,506.0 111.3,504.0 112.2,499.2 113.0,494.8 113.7,490.0 114.3,486.3 115.0,480.8 115.7,479.6 116.3,477.6 117.0,475.7 117.6,474.3 118.2,474.9 118.8,473.1 119.4,472.9 120.0,471.3 120.6,471.7 121.2,471.4 121.9,472.5 122.5,471.6 123.1,470.2 123.8,471.0 124.4,470.6 125.0,469.8 125.6,469.9 126.2,469.6 126.9,469.3 127.5,468.4 128.1,469.4 128.8,470.3 129.4,470.3 130.0,469.0 130.6,468.6 131.2,469.0 131.9,469.7 132.5,469.2 133.1,468.6 133.8,469.1 134.4,468.7 135.0,469.1 135.6,468.5 136.2,467.8 136.9,468.9 137.5,469.3 138.1,468.1 138.8,468.8 139.4,469.4 140.0,468.6 140.6,468.4 141.2,470.2 141.9,469.4 142.5,469.6 143.1,468.2 143.8,470.0 144.4,467.8 145.0,468.6 145.6,469.5 146.2,470.0 146.9,468.6 147.5,468.9 148.1,469.6 148.8,468.2 149.4,470.1 150.0,470.1 150.6,469.6 151.2,470.3 151.9,470.6 152.5,470.4 153.1,470.6 153.8,471.4 154.4,470.2 155.0,470.7 155.6,470.3 156.2,471.5 156.9,470.6 157.5,471.3 158.1,471.2 158.8,471.2 159.4,472.4 160.0,471.3 160.6,472.4 161.2,472.1 161.9,472.5 162.5,471.6 163.1,472.5 163.8,472.4 164.4,471.6 165.0,472.3 165.6,472.1 166.2,472.3 166.9,473.3 167.5,472.0 168.1,471.5 168.8,471.5 169.4,472.4 170.0,472.4 170.6,472.9 171.2,473.3 171.9,474.2 172.5,473.3 173.1,473.5 173.8,472.8 174.4,473.7 175.0,474.3 175.6,474.4 176.2,472.2 176.9,474.2 177.5,474.8 178.1,474.3 178.8,472.9 179.4,473.7 180.0,474.4 180.6,474.3 181.2,473.6 181.9,473.6 182.5,474.9 183.1,473.4 183.8,475.3 184.4,474.5 185.0,474.7 185.6,473.7 186.2,474.2 186.9,475.1 187.5,473.8 188.1,476.2 188.8,473.9 189.4,474.1 190.0,475.0 190.6,475.4 191.2,475.6 191.8,474.9 192.4,475.1 193.0,475.1 193.7,474.9 194.3,473.6 194.9,476.0 195.5,475.6 196.1,475.6 196.7,475.1 197.3,475.8 197.9,475.6 198.5,475.6 199.1,476.5 199.8,474.6 200.4,476.0 201.0,475.2 201.6,475.7 202.2,477.0 202.8,475.3 203.4,476.0 204.0,475.7 204.6,476.8 205.2,475.6 205.9,475.2 206.5,476.7 207.1,476.1 207.7,476.2 208.3,477.2 208.9,475.9 209.5,476.3 210.1,476.7 210.7,476.9 211.3,476.4 212.0,477.4 212.6,478.3 213.2,476.6 213.8,478.1 214.4,475.6 215.0,477.9 215.6,476.8 216.2,477.1 216.8,476.8 217.4,476.6 218.0,476.2 218.6,476.8 219.2,477.9 219.8,477.8 220.4,476.8 221.0,476.7 221.6,476.6 222.2,476.2 222.8,478.2 223.4,477.5 224.1,477.1 224.7,476.7 225.3,476.4 225.9,477.9 226.5,477.6 227.1,476.4 227.7,477.7 228.3,476.3 228.9,477.5 229.5,476.4 230.1,476.8 230.7,477.4 231.3,477.4 231.9,477.8 232.5,476.5 233.1,478.1 233.7,478.0 234.3,477.1 234.9,477.4 235.5,476.6 236.1,477.0 236.7,476.2 237.3,477.2 237.9,477.3 238.5,478.0 239.1,477.8 239.7,477.7 240.3,476.9 240.9,477.0 241.6,476.9 242.2,477.3 242.8,475.9 243.4,477.7 244.0,476.1 244.6,476.8 245.2,477.2 245.8,476.8 246.4,478.3 247.0,477.1 247.6,478.2 248.2,478.0 248.8,476.9 249.4,477.5 250.0,478.1 250.6,477.0 251.2,477.3 251.8,476.8 252.4,477.2 253.0,477.0 253.6,477.3 254.2,477.9 254.8,478.1 255.4,477.3 256.0,477.4 256.6,477.8 257.2,477.0 257.8,476.5 258.4,478.0 259.0,476.6 259.6,477.8 260.2,476.6 260.8,478.4 261.4,476.5 262.0,477.8 262.6,478.2 263.2,476.6 263.8,478.2 264.4,476.7 265.0,476.1 265.6,477.7 266.2,477.7 266.8,477.1 267.4,475.6 268.0,477.2 268.6,477.0 269.2,477.0 269.8,477.1 270.4,476.1 271.0,476.9 271.6,478.5 272.2,478.3 272.8,477.0 273.4,476.8 274.0,477.5 274.6,478.0 275.2,477.7 275.8,476.5 276.4,477.4 277.0,477.4 277.6,478.2 278.2,478.1 278.8,477.6 279.4,478.1 280.0,477.0 280.6,478.3 281.2,477.0 281.8,477.6 282.4,477.9 283.0,476.7 283.6,476.8 284.2,476.1 284.8,477.4 285.4,477.3 286.0,477.1 286.6,478.4 287.3,477.4 287.4,475.4 287.5,472.1 287.6,468.5 287.7,465.9 287.8,463.2 288.8,457.2 289.5,455.9 290.1,455.1 290.8,454.6 291.5,453.9 292.2,452.5 292.9,453.3 293.6,451.5 294.3,452.3 295.0,451.6 295.6,451.3 296.2,452.3 296.8,450.1 297.4,449.8 298.0,450.0 298.6,450.0 299.2,447.9 299.8,448.9 300.4,447.7 301.0,448.6 301.6,449.0 302.3,447.4 302.9,447.0 303.6,447.0 304.2,443.6 304.9,447.0 305.6,446.5 306.2,445.8 306.9,444.9 307.5,444.2 308.1,444.5 308.8,445.7 309.4,443.9 310.0,445.2 310.6,440.4 311.2,442.5 311.9,443.0 312.5,442.3 313.1,440.0 313.8,440.8 314.4,442.9 315.0,439.4 315.6,439.3 316.2,438.8 316.9,439.1 317.5,440.3 318.1,439.8 318.8,435.9 319.4,440.3 320.0,437.0 320.6,436.6 321.2,439.5 321.9,436.6 322.5,434.5 323.1,434.3 323.8,433.1 324.4,431.6 325.0,431.6 325.7,432.4 326.3,430.5 326.6,431.6 327.0,437.5" fill="none" stroke="#2c2c2c" stroke-width="0.9" stroke-linejoin="round"/>
<path d="M105,475.5 V501.3 " fill="none" stroke="#111" stroke-width="1.1"/><path d="M101.5,495.90000000000003 L105,501.3 L108.5,495.90000000000003" fill="none" stroke="#111" stroke-width="1.4"/>
<path d="M285.8,498 V478 " fill="none" stroke="#222" stroke-width="1.4"/><path d="M282.2,484.6 L285.8,478 L289.40000000000003,484.6" fill="none" stroke="#111" stroke-width="1.4"/>
<text transform="translate(195.40,227.80) scale(1.196,1)" x="-0.00" y="0" font-size="13.85" fill="#111" stroke="#111" stroke-width="0.25">wt</text>
<text transform="translate(177.80,267.20) scale(1.212,1)" x="-0.29" y="0" font-size="14.49" fill="#111" stroke="#111" stroke-width="0.25">4-1BB</text>
<text transform="translate(226.60,261.60) scale(1.619,1)" x="-0.41" y="0" font-size="9.10" fill="#111" stroke="#111" stroke-width="0.25">-/-</text>
<text transform="translate(157.00,549.20) scale(0.978,1)" x="-0.32" y="0" font-size="16.23" fill="#111" stroke="#111" stroke-width="0.25">Time (sec)</text>
<text transform="translate(18.80,386.40) rotate(-90) scale(0.997,1)" x="-1.13" y="0" font-size="16.09" fill="#111" stroke="#111" stroke-width="0.25">[Ca<tspan font-size="60%" dy="-0.88em">2+</tspan><tspan dy="0.528em">]i (nM)</tspan></text>
<rect x="420.10" y="212.80" width="10.10" height="24.90" fill="#969696" stroke="#2e2e2e" stroke-width="1"/>
<rect x="438.60" y="205.90" width="9.80" height="31.80" fill="#969696" stroke="#2e2e2e" stroke-width="1"/>
<rect x="457.00" y="181.00" width="9.80" height="56.70" fill="#969696" stroke="#2e2e2e" stroke-width="1"/>
<rect x="475.30" y="94.40" width="10.00" height="143.30" fill="#969696" stroke="#2e2e2e" stroke-width="1"/>
<rect x="493.50" y="75.50" width="10.10" height="162.20" fill="#969696" stroke="#2e2e2e" stroke-width="1"/>
<line x1="405.70" y1="41.87" x2="405.70" y2="237.70" stroke="#2a2a2a" stroke-width="1.3"/>
<line x1="400.30" y1="237.70" x2="505.00" y2="237.70" stroke="#2a2a2a" stroke-width="1.3"/>
<text transform="translate(390.90,242.70) scale(1.156,1)" x="-0.61" y="0" font-size="15.14" fill="#111" stroke="#111" stroke-width="0.25">0</text>
<line x1="400.60" y1="209.81" x2="405.70" y2="209.81" stroke="#2a2a2a" stroke-width="1.2"/>
<text transform="translate(385.60,214.81) scale(1.302,1)" x="-1.36" y="0" font-size="15.14" fill="#111" stroke="#111" stroke-width="0.25">.2</text>
<line x1="400.60" y1="181.92" x2="405.70" y2="181.92" stroke="#2a2a2a" stroke-width="1.2"/>
<text transform="translate(385.60,186.92) scale(1.257,1)" x="-1.36" y="0" font-size="15.14" fill="#111" stroke="#111" stroke-width="0.25">.4</text>
<line x1="400.60" y1="154.03" x2="405.70" y2="154.03" stroke="#2a2a2a" stroke-width="1.2"/>
<text transform="translate(385.60,159.03) scale(1.283,1)" x="-1.36" y="0" font-size="15.14" fill="#111" stroke="#111" stroke-width="0.25">.6</text>
<line x1="400.60" y1="126.14" x2="405.70" y2="126.14" stroke="#2a2a2a" stroke-width="1.2"/>
<text transform="translate(385.60,131.14) scale(1.283,1)" x="-1.36" y="0" font-size="15.14" fill="#111" stroke="#111" stroke-width="0.25">.8</text>
<line x1="400.60" y1="98.25" x2="405.70" y2="98.25" stroke="#2a2a2a" stroke-width="1.2"/>
<text transform="translate(376.60,103.25) scale(1.171,1)" x="-1.14" y="0" font-size="15.14" fill="#111" stroke="#111" stroke-width="0.25">1.0</text>
<line x1="400.60" y1="70.36" x2="405.70" y2="70.36" stroke="#2a2a2a" stroke-width="1.2"/>
<text transform="translate(376.60,75.36) scale(1.185,1)" x="-1.14" y="0" font-size="15.14" fill="#111" stroke="#111" stroke-width="0.25">1.2</text>
<line x1="400.60" y1="42.47" x2="405.70" y2="42.47" stroke="#2a2a2a" stroke-width="1.2"/>
<text transform="translate(376.60,47.47) scale(1.162,1)" x="-1.14" y="0" font-size="15.14" fill="#111" stroke="#111" stroke-width="0.25">1.4</text>
<text transform="translate(421.20,252.30) scale(1.220,1)" x="-0.59" y="0" font-size="14.86" fill="#111" stroke="#111" stroke-width="0.25">0</text>
<text transform="translate(437.00,252.30) scale(1.182,1)" x="-1.34" y="0" font-size="14.86" fill="#111" stroke="#111" stroke-width="0.25">.2</text>
<text transform="translate(454.30,252.30) scale(1.206,1)" x="-1.34" y="0" font-size="14.86" fill="#111" stroke="#111" stroke-width="0.25">.4</text>
<text transform="translate(474.00,252.30) scale(1.165,1)" x="-1.34" y="0" font-size="14.86" fill="#111" stroke="#111" stroke-width="0.25">.8</text>
<text transform="translate(488.90,252.30) scale(1.198,1)" x="-1.11" y="0" font-size="14.86" fill="#111" stroke="#111" stroke-width="0.25">1.6</text>
<text transform="translate(408.60,268.60) scale(1.118,1)" x="-1.33" y="0" font-size="14.78" fill="#111" stroke="#111" stroke-width="0.25">Iono (μM) + Ag</text>
<text transform="translate(369.60,247.40) rotate(-90) scale(1.075,1)" x="-1.36" y="0" font-size="16.96" fill="#111" stroke="#111" stroke-width="0.25">Relative histamine release</text>
<rect x="420.10" y="346.80" width="10.10" height="85.20" fill="#969696" stroke="#2e2e2e" stroke-width="1"/>
<rect x="438.60" y="362.30" width="9.80" height="69.70" fill="#969696" stroke="#2e2e2e" stroke-width="1"/>
<rect x="457.00" y="358.80" width="9.80" height="73.20" fill="#969696" stroke="#2e2e2e" stroke-width="1"/>
<rect x="475.30" y="319.80" width="10.00" height="112.20" fill="#969696" stroke="#2e2e2e" stroke-width="1"/>
<rect x="493.50" y="280.00" width="10.10" height="152.00" fill="#969696" stroke="#2e2e2e" stroke-width="1"/>
<line x1="405.70" y1="292.65" x2="405.70" y2="432.00" stroke="#2a2a2a" stroke-width="1.3"/>
<line x1="400.30" y1="432.00" x2="505.00" y2="432.00" stroke="#2a2a2a" stroke-width="1.3"/>
<text transform="translate(389.50,437.40) scale(1.261,1)" x="-0.63" y="0" font-size="15.86" fill="#111" stroke="#111" stroke-width="0.25">0</text>
<line x1="400.60" y1="404.25" x2="405.70" y2="404.25" stroke="#2a2a2a" stroke-width="1.2"/>
<text transform="translate(385.80,409.65) scale(1.198,1)" x="-1.43" y="0" font-size="15.86" fill="#111" stroke="#111" stroke-width="0.25">.2</text>
<line x1="400.60" y1="376.50" x2="405.70" y2="376.50" stroke="#2a2a2a" stroke-width="1.2"/>
<text transform="translate(385.80,381.90) scale(1.156,1)" x="-1.43" y="0" font-size="15.86" fill="#111" stroke="#111" stroke-width="0.25">.4</text>
<line x1="400.60" y1="348.75" x2="405.70" y2="348.75" stroke="#2a2a2a" stroke-width="1.2"/>
<text transform="translate(385.80,354.15) scale(1.181,1)" x="-1.43" y="0" font-size="15.86" fill="#111" stroke="#111" stroke-width="0.25">.6</text>
<line x1="400.60" y1="321.00" x2="405.70" y2="321.00" stroke="#2a2a2a" stroke-width="1.2"/>
<text transform="translate(385.80,326.40) scale(1.181,1)" x="-1.43" y="0" font-size="15.86" fill="#111" stroke="#111" stroke-width="0.25">.8</text>
<line x1="400.60" y1="293.25" x2="405.70" y2="293.25" stroke="#2a2a2a" stroke-width="1.2"/>
<text transform="translate(391.40,298.65) scale(1.073,1)" x="-1.19" y="0" font-size="15.86" fill="#111" stroke="#111" stroke-width="0.25">1</text>
<text transform="translate(421.20,447.10) scale(1.197,1)" x="-0.61" y="0" font-size="15.14" fill="#111" stroke="#111" stroke-width="0.25">0</text>
<text transform="translate(437.00,447.10) scale(1.159,1)" x="-1.36" y="0" font-size="15.14" fill="#111" stroke="#111" stroke-width="0.25">.2</text>
<text transform="translate(454.30,447.10) scale(1.183,1)" x="-1.36" y="0" font-size="15.14" fill="#111" stroke="#111" stroke-width="0.25">.4</text>
<text transform="translate(474.00,447.10) scale(1.143,1)" x="-1.36" y="0" font-size="15.14" fill="#111" stroke="#111" stroke-width="0.25">.8</text>
<text transform="translate(488.90,447.10) scale(1.176,1)" x="-1.14" y="0" font-size="15.14" fill="#111" stroke="#111" stroke-width="0.25">1.6</text>
<text transform="translate(408.60,462.50) scale(1.097,1)" x="-1.36" y="0" font-size="15.07" fill="#111" stroke="#111" stroke-width="0.25">Iono (μM) + Ag</text>
<text transform="translate(371.40,444.40) rotate(-90) scale(1.080,1)" x="-1.34" y="0" font-size="16.81" fill="#111" stroke="#111" stroke-width="0.25">Relative IL-6 secretion</text>
<rect x="420.10" y="559.80" width="10.10" height="68.40" fill="#969696" stroke="#2e2e2e" stroke-width="1"/>
<rect x="438.60" y="587.50" width="9.80" height="40.70" fill="#969696" stroke="#2e2e2e" stroke-width="1"/>
<rect x="457.00" y="571.60" width="9.80" height="56.60" fill="#969696" stroke="#2e2e2e" stroke-width="1"/>
<rect x="475.30" y="499.90" width="10.00" height="128.30" fill="#969696" stroke="#2e2e2e" stroke-width="1"/>
<rect x="493.50" y="469.00" width="10.10" height="159.20" fill="#969696" stroke="#2e2e2e" stroke-width="1"/>
<line x1="405.70" y1="488.10" x2="405.70" y2="628.20" stroke="#2a2a2a" stroke-width="1.3"/>
<line x1="400.30" y1="628.20" x2="505.00" y2="628.20" stroke="#2a2a2a" stroke-width="1.3"/>
<text transform="translate(388.80,633.60) scale(1.328,1)" x="-0.64" y="0" font-size="16.00" fill="#111" stroke="#111" stroke-width="0.25">0</text>
<line x1="400.60" y1="600.30" x2="405.70" y2="600.30" stroke="#2a2a2a" stroke-width="1.2"/>
<text transform="translate(385.80,605.70) scale(1.187,1)" x="-1.44" y="0" font-size="16.00" fill="#111" stroke="#111" stroke-width="0.25">.2</text>
<line x1="400.60" y1="572.40" x2="405.70" y2="572.40" stroke="#2a2a2a" stroke-width="1.2"/>
<text transform="translate(385.80,577.80) scale(1.146,1)" x="-1.44" y="0" font-size="16.00" fill="#111" stroke="#111" stroke-width="0.25">.4</text>
<line x1="400.60" y1="544.50" x2="405.70" y2="544.50" stroke="#2a2a2a" stroke-width="1.2"/>
<text transform="translate(385.80,549.90) scale(1.170,1)" x="-1.44" y="0" font-size="16.00" fill="#111" stroke="#111" stroke-width="0.25">.6</text>
<line x1="400.60" y1="516.60" x2="405.70" y2="516.60" stroke="#2a2a2a" stroke-width="1.2"/>
<text transform="translate(385.80,522.00) scale(1.170,1)" x="-1.44" y="0" font-size="16.00" fill="#111" stroke="#111" stroke-width="0.25">.8</text>
<line x1="400.60" y1="488.70" x2="405.70" y2="488.70" stroke="#2a2a2a" stroke-width="1.2"/>
<text transform="translate(391.40,494.10) scale(1.063,1)" x="-1.20" y="0" font-size="16.00" fill="#111" stroke="#111" stroke-width="0.25">1</text>
<text transform="translate(421.20,643.30) scale(1.220,1)" x="-0.59" y="0" font-size="14.86" fill="#111" stroke="#111" stroke-width="0.25">0</text>
<text transform="translate(437.00,643.30) scale(1.182,1)" x="-1.34" y="0" font-size="14.86" fill="#111" stroke="#111" stroke-width="0.25">.2</text>
<text transform="translate(454.30,643.30) scale(1.206,1)" x="-1.34" y="0" font-size="14.86" fill="#111" stroke="#111" stroke-width="0.25">.4</text>
<text transform="translate(474.00,643.30) scale(1.165,1)" x="-1.34" y="0" font-size="14.86" fill="#111" stroke="#111" stroke-width="0.25">.8</text>
<text transform="translate(488.90,643.30) scale(1.198,1)" x="-1.11" y="0" font-size="14.86" fill="#111" stroke="#111" stroke-width="0.25">1.6</text>
<text transform="translate(408.60,659.30) scale(1.066,1)" x="-1.40" y="0" font-size="15.51" fill="#111" stroke="#111" stroke-width="0.25">Iono (μM) + Ag</text>
<text transform="translate(369.50,662.80) rotate(-90) scale(1.053,1)" x="-1.36" y="0" font-size="16.96" fill="#111" stroke="#111" stroke-width="0.25">Relative</text>
<text transform="translate(369.50,594.70) rotate(-90) scale(1.088,1)" x="-0.34" y="0" font-size="16.96" fill="#111" stroke="#111" stroke-width="0.25">TNF-α secretion</text>
</svg>
</body></html>
